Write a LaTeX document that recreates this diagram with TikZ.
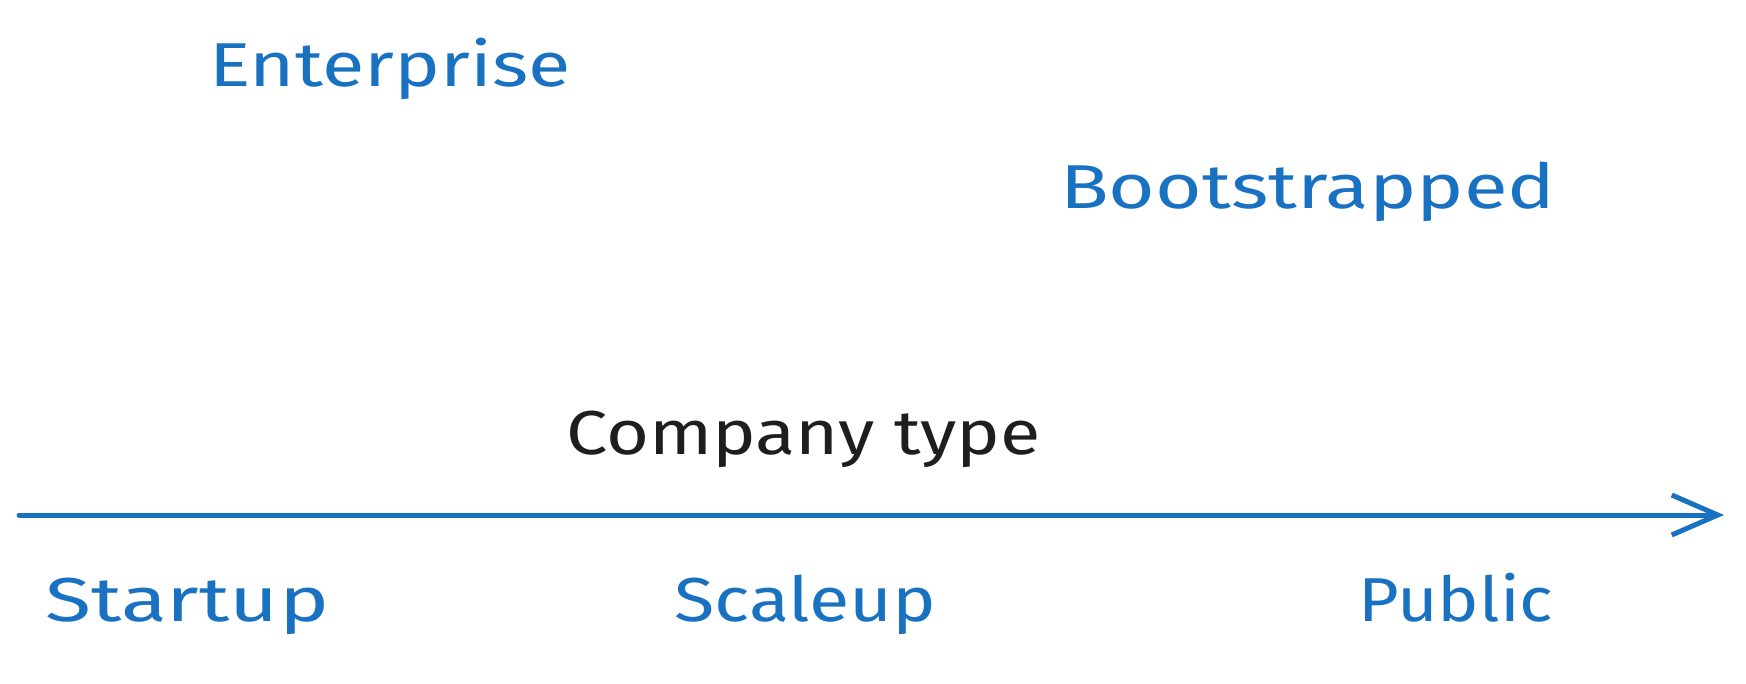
\documentclass[tikz,border=0pt]{standalone}
\usepackage{fontspec}
\setmainfont{Fira Sans}
\usetikzlibrary{arrows.meta}
\definecolor{exblue}{HTML}{1971C2}
\definecolor{exblack}{HTML}{1E1E1E}
\newcommand{\wid}[2]{\scalebox{#1}[1]{#2}}
\tikzset{
  lbl/.style={anchor=base west, inner sep=0pt, text=exblue, font=\fontsize{62}{62}\selectfont},
  ttl/.style={lbl, text=exblack},
  axis/.style={draw=exblue, line width=5pt, line cap=round, -{Straight Barb[length=46pt,width=40pt,line width=5pt]}}
}
\begin{document}
\begin{tikzpicture}[x=1pt,y=-1pt]
\useasboundingbox (0,0) rectangle (1746,684);
\node[lbl] (ent) at (209,87) {\wid{1.25}{Enterprise}};
\node[lbl] (boot) at (1060,209) {\wid{1.29}{Bootstrapped}};
\node[ttl] (ct) at (566,454) {\wid{1.19}{Company type}};
\node[lbl] (start) at (45,621) {\wid{1.36}{Startup}};
\node[lbl] (scale) at (674,621) {\wid{1.19}{Scaleup}};
\node[lbl] (pub) at (1358,621) {\wid{1.13}{Public}};
\coordinate (a0) at (19,515);
\coordinate (a1) at (1724,515);
\draw[axis] (a0) -- (a1);
\end{tikzpicture}
\end{document}
